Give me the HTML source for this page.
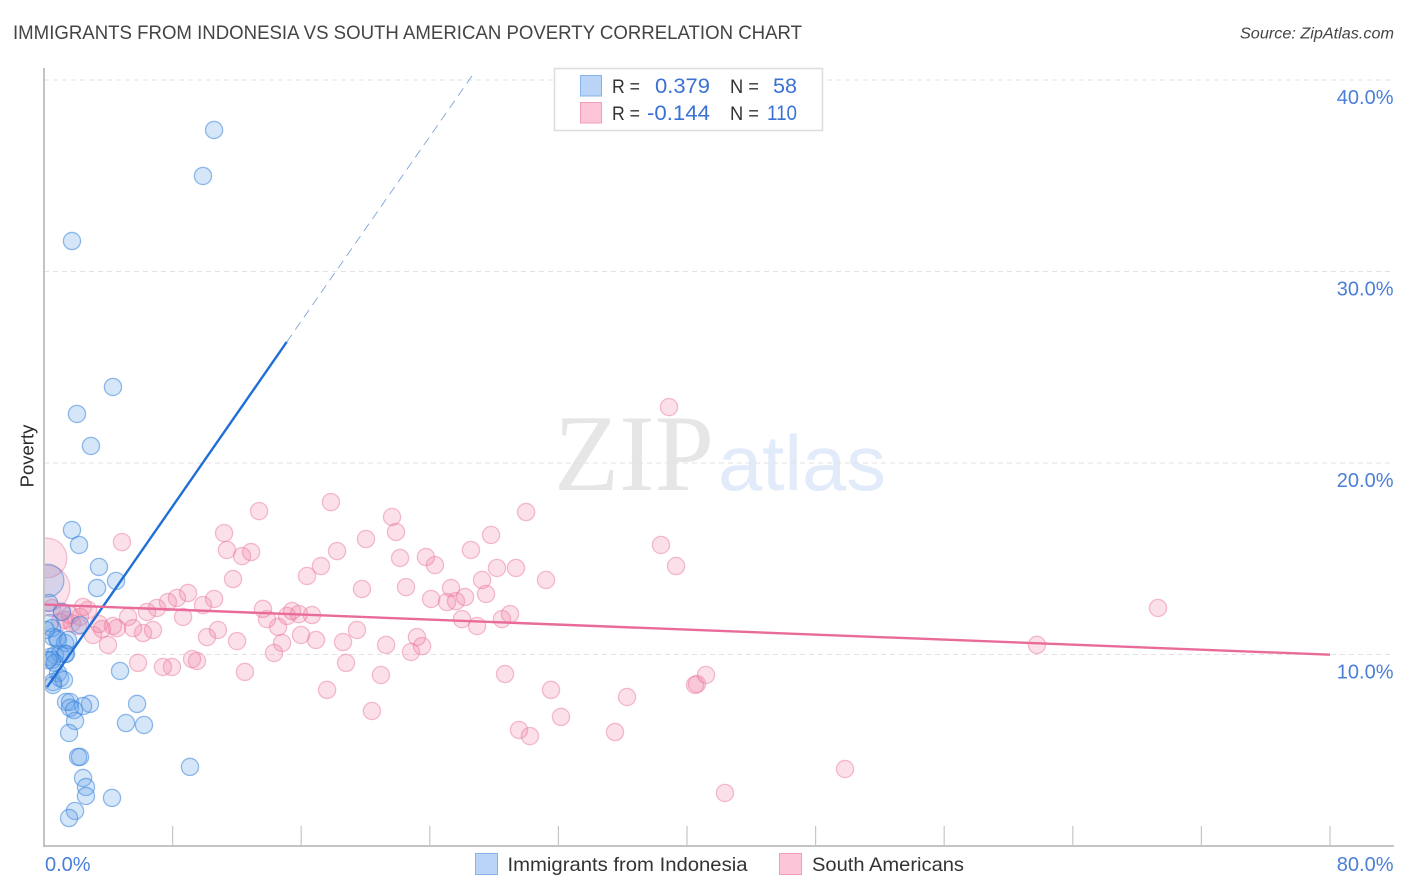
<!DOCTYPE html>
<html lang="en">
<head>
<meta charset="utf-8">
<title>Immigrants from Indonesia vs South American Poverty Correlation Chart</title>
<style>
  html, body { margin: 0; padding: 0; background: #fff; }
  svg { display: block; font-family: "Liberation Sans", sans-serif; }
</style>
</head>
<body>
<svg id="chart" xmlns="http://www.w3.org/2000/svg" width="1406" height="892" viewBox="0 0 1406 892">
  <defs>
    <clipPath id="plot-clip"><rect x="45" y="60" width="1349" height="786"></rect></clipPath>
  </defs>
  <rect x="0" y="0" width="1406" height="892" fill="#ffffff"></rect>
  <text x="13" y="39" font-size="19.5" fill="#444444" textLength="789" lengthAdjust="spacingAndGlyphs">IMMIGRANTS FROM INDONESIA VS SOUTH AMERICAN POVERTY CORRELATION CHART</text>
  <text x="1394" y="38.5" font-size="15.5" font-style="italic" fill="#444444" text-anchor="end" textLength="154" lengthAdjust="spacingAndGlyphs">Source: ZipAtlas.com</text>

  <g>
    <text x="554" y="490" font-family="'Liberation Serif', serif" font-size="109" fill="#e6e6e6" textLength="160" lengthAdjust="spacingAndGlyphs">ZIP</text>
    <text x="718" y="490" font-size="78" fill="#e2ebf9" textLength="168" lengthAdjust="spacingAndGlyphs">atlas</text>
  </g>

  <g id="grid"></g>
  <g id="points" clip-path="url(#plot-clip)"></g>
  <g id="trends"></g>
  <g id="axes"></g>

  <text transform="translate(33.5,456) rotate(-90)" font-size="18.5" fill="#2b2b2b" text-anchor="middle">Poverty</text>

  <g>
    <rect x="554.5" y="68.5" width="268" height="62" fill="#ffffff" stroke="#dddddd" stroke-width="1.5"></rect>
    <rect x="580.5" y="75.5" width="21" height="20.5" fill="#b9d4f7" stroke="#86b3ea" stroke-width="1"></rect>
    <rect x="580.5" y="102.5" width="21" height="20.5" fill="#fcc6d8" stroke="#f19db9" stroke-width="1"></rect>
    <text x="612" y="93" font-size="19" fill="#333333" textLength="28" lengthAdjust="spacingAndGlyphs">R =</text>
    <text x="710" y="93" font-size="21" fill="#3a72d4" text-anchor="end" textLength="55" lengthAdjust="spacingAndGlyphs">0.379</text>
    <text x="730" y="93" font-size="19" fill="#333333" textLength="29" lengthAdjust="spacingAndGlyphs">N =</text>
    <text x="797" y="93" font-size="21" fill="#3a72d4" text-anchor="end" textLength="24" lengthAdjust="spacingAndGlyphs">58</text>
    <text x="612" y="120" font-size="19" fill="#333333" textLength="28" lengthAdjust="spacingAndGlyphs">R =</text>
    <text x="710" y="120" font-size="21" fill="#3a72d4" text-anchor="end" textLength="63" lengthAdjust="spacingAndGlyphs">-0.144</text>
    <text x="730" y="120" font-size="19" fill="#333333" textLength="29" lengthAdjust="spacingAndGlyphs">N =</text>
    <text x="797" y="120" font-size="21" fill="#3a72d4" text-anchor="end" textLength="30" lengthAdjust="spacingAndGlyphs">110</text>
  </g>

  <g>
    <rect x="475.5" y="853.5" width="22" height="21" fill="#b9d4f7" stroke="#86b3ea" stroke-width="1"></rect>
    <text x="507.5" y="871" font-size="19.5" fill="#333333" textLength="240" lengthAdjust="spacingAndGlyphs">Immigrants from Indonesia</text>
    <rect x="779.5" y="853.5" width="22" height="21" fill="#fcc6d8" stroke="#f19db9" stroke-width="1"></rect>
    <text x="812" y="871" font-size="19.5" fill="#333333" textLength="152" lengthAdjust="spacingAndGlyphs">South Americans</text>
  </g>
</svg>
<script>
// Chart data (percent values)
const xTickValues = [8, 16, 24, 32, 40, 48, 56, 64, 72, 80];
const yTickValues = [10, 20, 30, 40];
const yTickLabels = ["10.0%", "20.0%", "30.0%", "40.0%"];
const xEndLabels = ["0.0%", "80.0%"];
const xEndValues = [0, 80];

const indonesiaX = [10.58, 9.89, 1.74, 4.29, 2.05, 2.92, 1.74, 2.18, 3.42, 4.48, 3.30, 0.31, 1.12, 2.24, 0.37, 0.50, 0.56, 0.81, 1.31, 0.68, 1.00, 1.31, 1.37, 0.37, 0.50, 0.68, 0.87, 0.56, 1.00, 1.24, 0.56, 0.12, 0.87, 1.49, 0.25, 1.37, 1.62, 2.86, 2.43, 1.62, 1.87, 1.93, 1.56, 2.12, 2.24, 2.43, 2.61, 2.61, 1.93, 1.56, 4.23, 4.73, 5.79, 5.10, 6.22, 9.08];
const indonesiaY = [37.39, 34.99, 31.59, 23.97, 22.56, 20.89, 16.50, 15.72, 14.57, 13.84, 13.47, 12.69, 12.22, 11.54, 11.64, 11.38, 10.91, 10.86, 10.60, 9.97, 10.03, 10.03, 10.03, 9.87, 9.71, 9.56, 9.03, 8.56, 8.77, 8.67, 8.41, 11.28, 10.76, 10.76, 9.71, 7.52, 7.52, 7.42, 7.31, 7.21, 7.10, 6.53, 5.90, 4.65, 4.65, 3.55, 3.08, 2.61, 1.83, 1.46, 2.51, 9.14, 7.42, 6.42, 6.32, 4.13];
const indonesiaLargeX = [0.22];
const indonesiaLargeY = [13.86];
const indonesiaLargeWeight = [3.6];

const southAmericanX = [13.38, 17.85, 21.65, 21.90, 20.03, 11.20, 11.38, 12.32, 12.88, 18.23, 27.81, 29.99, 26.56, 22.15, 23.76, 24.32, 17.23, 16.36, 11.76, 28.18, 29.36, 27.25, 31.23, 19.78, 22.52, 27.50, 25.32, 26.19, 24.08, 25.07, 25.63, 10.58, 9.89, 13.62, 15.43, 15.86, 15.12, 16.67, 13.87, 26.00, 28.99, 28.49, 26.94, 14.56, 19.47, 10.82, 10.14, 12.01, 15.99, 16.92, 18.60, 14.81, 23.20, 23.52, 21.28, 22.83, 14.31, 18.79, 12.50, 20.96, 28.68, 17.61, 31.54, 20.40, 32.16, 4.85, 8.96, 8.27, 7.71, 7.03, 6.41, 8.65, 5.23, 4.29, 3.42, 3.61, 4.54, 5.54, 6.16, 6.78, 3.05, 3.98, 5.85, 7.40, 7.96, 9.21, 9.52, 2.43, 1.12, 1.62, 2.24, 2.74, 1.31, 1.74, 0.50, 1.00, 2.12, 38.88, 38.38, 39.32, 69.30, 61.77, 41.18, 40.62, 40.50, 36.27, 35.52, 29.55, 30.23, 49.83, 42.36];
const southAmericanY = [17.49, 17.96, 17.18, 16.40, 16.03, 16.34, 15.46, 15.14, 15.35, 15.40, 16.24, 17.44, 15.46, 15.04, 15.09, 14.67, 14.62, 14.10, 13.94, 14.52, 14.52, 13.89, 13.89, 13.42, 13.52, 13.16, 13.47, 13.00, 12.90, 12.74, 12.79, 12.90, 12.58, 12.38, 12.27, 12.11, 12.01, 12.06, 11.85, 11.85, 12.11, 11.85, 11.49, 11.44, 11.28, 11.28, 10.91, 10.70, 11.02, 10.76, 10.65, 10.60, 10.91, 10.44, 10.50, 10.13, 10.08, 9.56, 9.09, 8.93, 8.98, 8.15, 8.15, 7.05, 6.74, 15.87, 13.21, 12.95, 12.74, 12.43, 12.22, 11.96, 11.96, 11.49, 11.59, 11.33, 11.38, 11.38, 11.12, 11.28, 11.02, 10.50, 9.56, 9.35, 9.35, 9.76, 9.66, 12.48, 12.22, 12.06, 11.96, 12.33, 11.81, 11.64, 12.43, 11.70, 11.49, 22.92, 15.72, 14.62, 12.43, 10.50, 8.93, 8.46, 8.41, 7.78, 5.95, 6.06, 5.74, 4.02, 2.77];
const southAmericanLargeX = [0.19, 0.19];
const southAmericanLargeY = [15.04, 13.47];
const southAmericanLargeWeight = [5.3, 7.0];

const indonesiaTrendX = [0.19, 15.10];
const indonesiaTrendY = [8.30, 26.32];
const indonesiaProjectionX = [15.10, 26.62];
const indonesiaProjectionY = [26.32, 40.21];
const southAmericanTrendX = [0, 80];
const southAmericanTrendY = [12.61, 9.99];

// Axis functions
function xScale(v) { return 44 + v * (1286 / 80); }
function yScale(v) { return 654.5 - (v - 10) * 19.15; }
function sizeScale(w) { return 8.6 * Math.sqrt(w); }

const SVG_NS = "http://www.w3.org/2000/svg";
function make(tag, parent, attrs) {
  const el = document.createElementNS(SVG_NS, tag);
  for (const k in attrs) el.setAttribute(k, attrs[k]);
  parent.appendChild(el);
  return el;
}

const gridLayer = document.getElementById("grid");
const pointLayer = document.getElementById("points");
const trendLayer = document.getElementById("trends");
const axisLayer = document.getElementById("axes");

// Gridlines and y tick labels
yTickValues.forEach(function (v, i) {
  const g = make("line", gridLayer, { x1: 44, x2: 1394, y1: yScale(v), y2: yScale(v), stroke: "#e2e2e2", "stroke-width": 1, "stroke-dasharray": "5 4" });
  
  
  const t = make("text", axisLayer, { x: 1393.5, y: yScale(v) + 24, "font-size": 20, fill: "#4a7fd8", "text-anchor": "end" });
  
  
  t.textContent = yTickLabels[i];
});

// Axes
const yAxisLine = make("line", axisLayer, { x1: 44, x2: 44, y1: 68, y2: 847, stroke: "#b0b0b0", "stroke-width": 1.5 });


const xAxisLine = make("line", axisLayer, { x1: 44, x2: 1394, y1: 846, y2: 846, stroke: "#b0b0b0", "stroke-width": 1.5 });


xTickValues.forEach(function (v) {
  const tick = make("line", axisLayer, { x1: xScale(v), x2: xScale(v), y1: 826, y2: 846, stroke: "#c6c6c6", "stroke-width": 1.2 });
  
  
});
xEndValues.forEach(function (v, i) {
  const t = make("text", axisLayer, { x: i === 0 ? xScale(v) + 1 : 1393.5, y: 871, "font-size": 20, fill: "#4a7fd8", "text-anchor": i === 0 ? "start" : "end" });
  
  
  t.textContent = xEndLabels[i];
});

// Points
function drawPoint(x, y, r, fill, stroke, fillAlpha, strokeAlpha, name) {
  const c = make("circle", pointLayer, { cx: xScale(x), cy: yScale(y), r: r, fill: fill, "fill-opacity": fillAlpha, stroke: stroke, "stroke-opacity": strokeAlpha, "stroke-width": 1.3 });
  
  
}
const pinkFill = "#f0749b", pinkStroke = "#ea7ea2", blueFill = "#5f9fe8", blueStroke = "#3a85da";
southAmericanLargeX.forEach(function (x, i) {
  drawPoint(x, southAmericanLargeY[i], sizeScale(southAmericanLargeWeight[i]), pinkFill, pinkStroke, 0.2, 0.45, 'south-american-point-large');
});
southAmericanX.forEach(function (x, i) {
  drawPoint(x, southAmericanY[i], sizeScale(1), pinkFill, pinkStroke, 0.22, 0.5, 'south-american-point');
});
indonesiaLargeX.forEach(function (x, i) {
  drawPoint(x, indonesiaLargeY[i], sizeScale(indonesiaLargeWeight[i]), blueFill, blueStroke, 0.24, 0.5, 'indonesia-point-large');
});
indonesiaX.forEach(function (x, i) {
  drawPoint(x, indonesiaY[i], sizeScale(1), blueFill, blueStroke, 0.26, 0.55, 'indonesia-point');
});

// Trend lines
const projection = make("line", trendLayer, { x1: xScale(indonesiaProjectionX[0]), y1: yScale(indonesiaProjectionY[0]), x2: xScale(indonesiaProjectionX[1]), y2: yScale(indonesiaProjectionY[1]), stroke: "#7ea5d6", "stroke-width": 0.9, "stroke-dasharray": "9 6" });


const blueTrend = make("line", trendLayer, { x1: xScale(indonesiaTrendX[0]), y1: yScale(indonesiaTrendY[0]), x2: xScale(indonesiaTrendX[1]), y2: yScale(indonesiaTrendY[1]), stroke: "#1f6fd6", "stroke-width": 2.4 });


const pinkTrend = make("line", trendLayer, { x1: xScale(southAmericanTrendX[0]), y1: yScale(southAmericanTrendY[0]), x2: xScale(southAmericanTrendX[1]), y2: yScale(southAmericanTrendY[1]), stroke: "#e96b9a", "stroke-width": 2.4 });


</script>
</body>
</html>
